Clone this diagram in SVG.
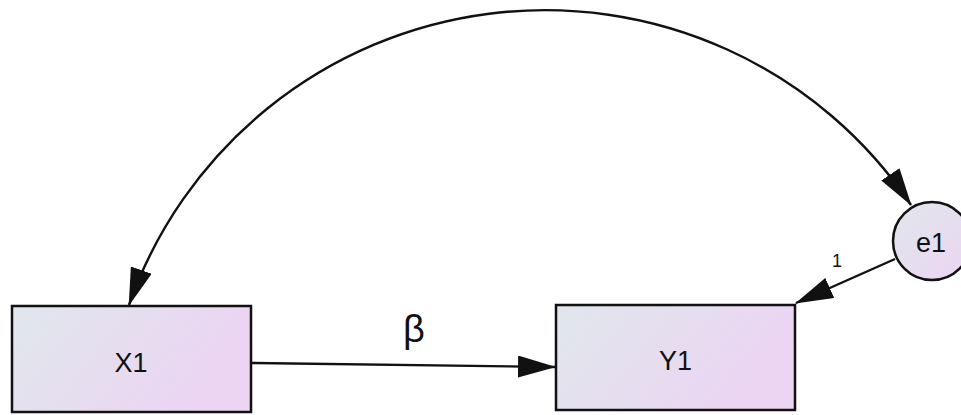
<svg xmlns="http://www.w3.org/2000/svg" width="961" height="415" viewBox="0 0 961 415">
  <style>
    .box { stroke: #111; stroke-width: 2.5; }
    .lbl { font-family: "Liberation Sans", Arial, sans-serif; fill: #111; text-anchor: middle; }
    .conn { fill: none; stroke: #111; stroke-width: 2.4; }
  </style>
  <defs>
    <linearGradient id="g" x1="0" y1="0" x2="1" y2="0.35">
      <stop offset="0" stop-color="#e0e7ec"/>
      <stop offset="1" stop-color="#ecd4f3"/>
    </linearGradient>
    <linearGradient id="gc" x1="0" y1="0" x2="1" y2="1">
      <stop offset="0" stop-color="#e0e7ec"/>
      <stop offset="1" stop-color="#ecd4f3"/>
    </linearGradient>
    <marker id="arr" markerUnits="userSpaceOnUse" markerWidth="38" markerHeight="22" viewBox="0 0 38 22" refX="37" refY="11" orient="auto-start-reverse">
      <path d="M0,0 L38,11 L0,22 z" fill="#111"/>
    </marker>
  </defs>
  <g id="connectors">
    <path class="conn" d="M 911 205 A 441 441 0 0 0 129 305" marker-start="url(#arr)" marker-end="url(#arr)"/>
    <path class="conn" d="M 251 363 L 555 367" marker-end="url(#arr)"/>
    <path class="conn" d="M 895 259 L 796 303" marker-end="url(#arr)"/>
  </g>
  <g id="X1">
    <rect class="box" x="12" y="306" width="239" height="106" fill="url(#g)"/>
    <text class="lbl" x="131" y="372" font-size="27">X1</text>
  </g>
  <g id="Y1">
    <rect class="box" x="556" y="305" width="239" height="105" fill="url(#g)"/>
    <text class="lbl" x="675.5" y="370" font-size="27">Y1</text>
  </g>
  <g id="e1">
    <circle class="box" cx="932" cy="241" r="39" fill="url(#gc)"/>
    <text class="lbl" x="931" y="252" font-size="27">e1</text>
  </g>
  <g id="labels">
    <text class="lbl" x="414" y="342" font-size="38">β</text>
    <text class="lbl" x="837" y="267" font-size="18">1</text>
  </g>
</svg>
